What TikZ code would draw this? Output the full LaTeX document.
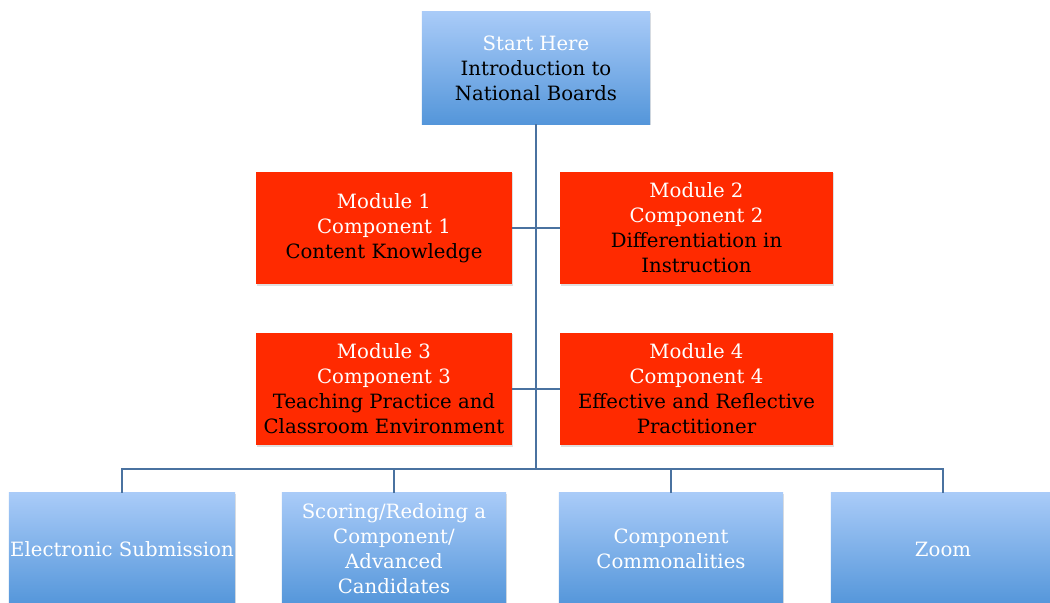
\documentclass[tikz,border=0pt]{standalone}
\usepackage{fontspec}
\setmainfont{DejaVu Serif}
\usetikzlibrary{shadows}

\definecolor{bluetop}{HTML}{A9CBF8}
\definecolor{bluebot}{HTML}{5496DA}
\definecolor{modred}{HTML}{FF2A00}
\definecolor{linkblue}{HTML}{4A72A0}

\begin{document}
\begin{tikzpicture}[x=0.025cm, y=-0.025cm,
  bluebox/.style={rectangle, top color=bluetop, bottom color=bluebot, minimum width=5.6cm, minimum height=2.8cm, align=center, font=\fontsize{14}{17.8}\selectfont, drop shadow={opacity=0.25, shadow xshift=0.6pt, shadow yshift=-1pt}},
  redbox/.style={rectangle, fill=modred, minimum height=2.82cm, align=center, font=\fontsize{14}{17.8}\selectfont, drop shadow={opacity=0.25, shadow xshift=0.6pt, shadow yshift=-1pt}},
  link/.style={draw=linkblue, line width=1.3pt}]
\clip (0,0) rectangle (1050,603);
\fill[white] (0,0) rectangle (1050,603);
\node (start) at (536,68) [bluebox, minimum width=5.7cm] {\textcolor{white}{Start Here}\\Introduction to\\National Boards};
\node (m1) at (384,228) [redbox, minimum width=6.4cm] {\textcolor{white}{Module 1}\\\textcolor{white}{Component 1}\\Content Knowledge};
\node (m2) at (696.5,228) [redbox, minimum width=6.82cm] {\textcolor{white}{Module 2}\\\textcolor{white}{Component 2}\\Differentiation in\\Instruction};
\node (m3) at (384,389) [redbox, minimum width=6.4cm] {\textcolor{white}{Module 3}\\\textcolor{white}{Component 3}\\Teaching Practice and\\Classroom Environment};
\node (m4) at (696.5,389) [redbox, minimum width=6.82cm] {\textcolor{white}{Module 4}\\\textcolor{white}{Component 4}\\Effective and Reflective\\Practitioner};
\node (es) at (122,549) [bluebox, text=white, inner xsep=1pt] {Electronic Submission};
\node (sr) at (394,549) [bluebox, text=white] {Scoring/Redoing a\\Component/\\Advanced\\Candidates};
\node (cc) at (671,549) [bluebox, text=white] {Component\\Commonalities};
\node (zm) at (943,549) [bluebox, text=white] {Zoom};
\coordinate (bus) at (536,469);
\draw[link] (start.south) -- (bus);
\draw[link] (m1.east) -- (m1.east -| bus);
\draw[link] (m2.west) -- (m2.west -| bus);
\draw[link] (m3.east) -- (m3.east -| bus);
\draw[link] (m4.west) -- (m4.west -| bus);
\draw[link] (es.north) |- (bus) -| (zm.north);
\draw[link] (sr.north) -- (sr.north |- bus);
\draw[link] (cc.north) -- (cc.north |- bus);
\end{tikzpicture}
\end{document}
